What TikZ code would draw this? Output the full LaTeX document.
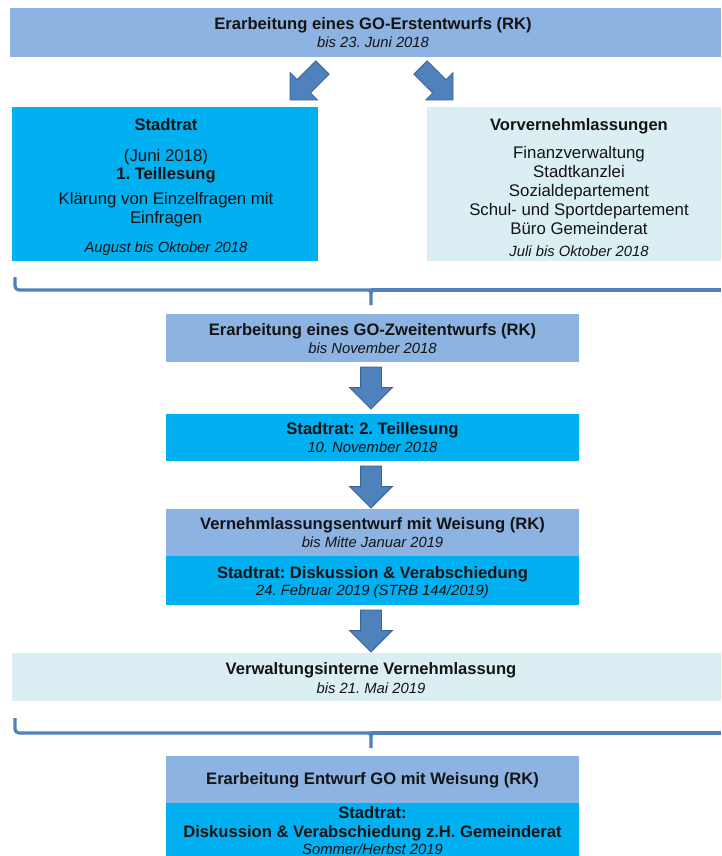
\documentclass[tikz,border=0pt]{standalone}
\usepackage{fontspec}
\setmainfont{Liberation Sans}
\usetikzlibrary{shapes.arrows,calc}
\definecolor{midblue}{HTML}{8DB3E2}
\definecolor{cyanbox}{HTML}{00B0F0}
\definecolor{paleblue}{HTML}{DBEEF4}
\definecolor{arrowfill}{HTML}{4F81BD}
\definecolor{arrowline}{HTML}{3A6496}
\definecolor{txt}{HTML}{141414}
\tikzset{
  box/.style={draw=none,inner sep=0pt,outer sep=0pt,rectangle},
  ttl/.style={anchor=base,inner sep=0pt,text=txt,font=\frenchspacing\bfseries\fontsize{16.6}{19}\selectfont},
  sub/.style={anchor=base,inner sep=0pt,text=txt,font=\frenchspacing\itshape\fontsize{14.8}{17}\selectfont},
  body/.style={anchor=base,inner sep=0pt,text=txt,font=\frenchspacing\fontsize{16.8}{19}\selectfont},
  bigarrow/.style={single arrow,draw=arrowline,fill=arrowfill,line width=0.8pt,
     single arrow tip angle=90,inner sep=0pt,outer sep=0pt,minimum height=#1},
  downarrow/.style={bigarrow=42pt,minimum width=42pt,text width=0pt,text height=10pt,text depth=10pt,
     single arrow head extend=11pt,rotate=-90,anchor=tail},
  diagarrow/.style={bigarrow=46pt,minimum width=38pt,text width=0pt,text height=9pt,text depth=9pt,
     single arrow head extend=10pt,anchor=tip},
  brace/.style={draw=arrowfill,line width=3.2pt,rounded corners=4pt},
}
\newcommand{\boxat}[6]{% name, color, x1, y1, x2, y2
  \node[box,fill=#2,minimum width={#5-#3},minimum height={#6-#4}] (#1) at ({(#3+#5)/2},{(#4+#6)/2}) {};}
\begin{document}
\begin{tikzpicture}[x=1pt,y=-1pt]
\useasboundingbox (0,0) rectangle (721,856);
% boxes
\boxat{b1}{midblue}{10}{8}{721}{57}
\boxat{b2}{cyanbox}{12}{107}{318}{261}
\boxat{b3}{paleblue}{427}{107}{721}{261}
\boxat{b4}{midblue}{166}{314}{579}{362}
\boxat{b5}{cyanbox}{166}{414}{579}{461}
\boxat{b6}{midblue}{166}{509}{579}{556}
\boxat{b6b}{cyanbox}{166}{556}{579}{605}
\boxat{b7}{paleblue}{12}{653}{721}{701}
\boxat{b8}{midblue}{166}{756}{579}{803}
\boxat{b8b}{cyanbox}{166}{803}{579}{856}

% texts
\node[ttl] (t1) at (373,30) {Erarbeitung eines GO-Erstentwurfs (RK)};
\node[sub] (t1s) at (373,48) {bis 23. Juni 2018};

\node[ttl] (t2) at (166,131) {Stadtrat};
\node[body] (t2a) at (166,161) {(Juni 2018)};
\node[ttl] (t2b) at (166,179) {1. Teillesung};
\node[body] (t2c) at (166,204) {Klärung von Einzelfragen mit};
\node[body] (t2d) at (166,223) {Einfragen};
\node[sub] (t2e) at (166,252) {August bis Oktober 2018};

\node[ttl] (t3) at (579,131) {Vorvernehmlassungen};
\node[body] (t3a) at (579,158) {Finanzverwaltung};
\node[body] (t3b) at (579,177) {Stadtkanzlei};
\node[body] (t3c) at (579,196) {Sozialdepartement};
\node[body] (t3d) at (579,215) {Schul- und Sportdepartement};
\node[body] (t3e) at (579,234) {Büro Gemeinderat};
\node[sub] (t3f) at (579,256) {Juli bis Oktober 2018};

\node[ttl] (t4) at (372.5,335) {Erarbeitung eines GO-Zweitentwurfs (RK)};
\node[sub] (t4s) at (372.5,353) {bis November 2018};

\node[ttl] (t5) at (372.5,434) {Stadtrat: 2. Teillesung};
\node[sub] (t5s) at (372.5,452) {10. November 2018};

\node[ttl] (t6) at (372.5,529) {Vernehmlassungsentwurf mit Weisung (RK)};
\node[sub] (t6s) at (372.5,547) {bis Mitte Januar 2019};
\node[ttl] (t6b) at (372.5,578) {Stadtrat: Diskussion \& Verabschiedung};
\node[sub] (t6c) at (372.5,595) {24. Februar 2019 (STRB 144/2019)};

\node[ttl] (t7) at (371,674) {Verwaltungsinterne Vernehmlassung};
\node[sub] (t7s) at (371,693) {bis 21. Mai 2019};

\node[ttl] (t8) at (372.5,784) {Erarbeitung Entwurf GO mit Weisung (RK)};
\node[ttl] (t8b) at (372.5,818) {Stadtrat:};
\node[ttl] (t8c) at (372.5,837) {Diskussion \& Verabschiedung z.H. Gemeinderat};
\node[sub] (t8d) at (372.5,854) {Sommer/Herbst 2019};

% diagonal arrows
\node[diagarrow,rotate=-135] (a1) at (290,100) {};
\node[diagarrow,rotate=-45] (a2) at (453,100) {};
% down arrows
\node[downarrow] (a3) at (371,367) {};
\node[downarrow] (a4) at (371,466) {};
\node[downarrow] (a5) at (371,610) {};

% braces
\coordinate (c1) at (371,290);
\draw[brace] (15,277) -- (15,290) -- (c1);
\draw[draw=arrowfill,line width=3.2pt] (c1) -- (721,290);
\fill[arrowfill] ($(c1)+(-4,0)$) .. controls ($(c1)+(-1.5,1)$) .. ($(c1)+(-1.6,15)$) -- ($(c1)+(1.6,15)$) .. controls ($(c1)+(1.5,1)$) .. ($(c1)+(4,0)$) -- cycle;
\coordinate (c2) at (371,733);
\draw[brace] (15,718) -- (15,733) -- (c2);
\draw[draw=arrowfill,line width=3.2pt] (c2) -- (721,733);
\fill[arrowfill] ($(c2)+(-4,0)$) .. controls ($(c2)+(-1.5,1)$) .. ($(c2)+(-1.6,15)$) -- ($(c2)+(1.6,15)$) .. controls ($(c2)+(1.5,1)$) .. ($(c2)+(4,0)$) -- cycle;
\end{tikzpicture}
\end{document}
